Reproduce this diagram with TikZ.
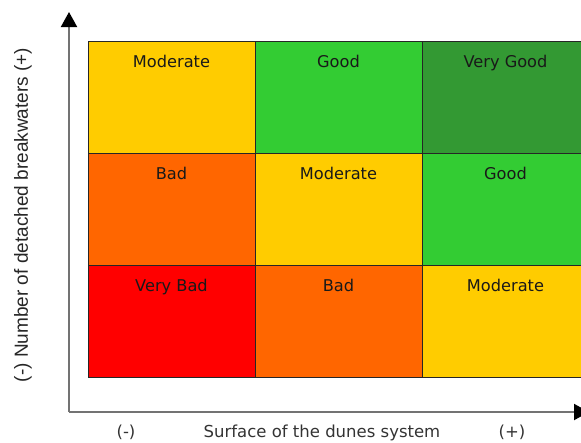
\documentclass[tikz,border=0pt]{standalone}
\usepackage{fontspec}
\setmainfont{DejaVu Sans}
\newfontfamily\axisfont{Liberation Sans}
\usepackage{tikz}
\usetikzlibrary{arrows.meta,positioning}

\definecolor{vbad}{HTML}{FF0000}
\definecolor{bad}{HTML}{FF6600}
\definecolor{moderate}{HTML}{FFCC00}
\definecolor{good}{HTML}{33CC33}
\definecolor{vgood}{HTML}{339933}

\begin{document}
\begin{tikzpicture}[
  x=1pt, y=-1pt,
  cell/.style={rectangle, draw=black!85, line width=1pt, inner sep=0pt, minimum width=167pt, minimum height=112pt},
  lbl/.style={anchor=base, inner sep=0pt, text=black!90, font=\fontsize{16.2}{19}\selectfont},
  axis/.style={draw=black!55, line width=2pt, -{Triangle[length=15pt, width=16pt, black]}},
  axlbl/.style={inner sep=0pt, anchor=base, text=black!80, font=\fontsize{16.5}{19}\selectfont}
]
\useasboundingbox (0,0) rectangle (581,442);

% cells
\node[cell, fill=moderate] (c11) at (171.5,97) {};
\node[cell, fill=good] (c12) at (338.5,97) {};
\node[cell, fill=vgood] (c13) at (505.5,97) {};
\node[cell, fill=bad] (c21) at (171.5,209) {};
\node[cell, fill=moderate] (c22) at (338.5,209) {};
\node[cell, fill=good] (c23) at (505.5,209) {};
\node[cell, fill=vbad] (c31) at (171.5,321) {};
\node[cell, fill=bad] (c32) at (338.5,321) {};
\node[cell, fill=moderate] (c33) at (505.5,321) {};

% ratings
\node[lbl] (t11) at ([yshift=-26.5pt]c11.north) {Moderate};
\node[lbl] (t12) at ([yshift=-26.5pt]c12.north) {Good};
\node[lbl] (t13) at ([yshift=-26.5pt]c13.north) {Very Good};
\node[lbl] (t21) at ([yshift=-26.5pt]c21.north) {Bad};
\node[lbl] (t22) at ([yshift=-26.5pt]c22.north) {Moderate};
\node[lbl] (t23) at ([yshift=-26.5pt]c23.north) {Good};
\node[lbl] (t31) at ([yshift=-26.5pt]c31.north) {Very Bad};
\node[lbl] (t32) at ([yshift=-26.5pt]c32.north) {Bad};
\node[lbl] (t33) at ([yshift=-26.5pt]c33.north) {Moderate};

% axes
\coordinate (origin) at (69,412);
\coordinate (ytip) at (69,12);
\coordinate (xtip) at (589,412);
\draw[axis] (origin) -- (ytip);
\draw[axis] (origin) -- (xtip);

\node[rotate=90, inner sep=0pt, text=black!85, font=\axisfont\fontsize{19}{22}\selectfont] (ylbl) at (23,215) {(-) Number of detached breakwaters (+)};
\node[axlbl] (xminus) at (126,437) {(-)};
\node[axlbl] (xlbl) at (322,437) {Surface of the dunes system};
\node[axlbl] (xplus) at (512,437) {(+)};

\end{tikzpicture}
\end{document}
